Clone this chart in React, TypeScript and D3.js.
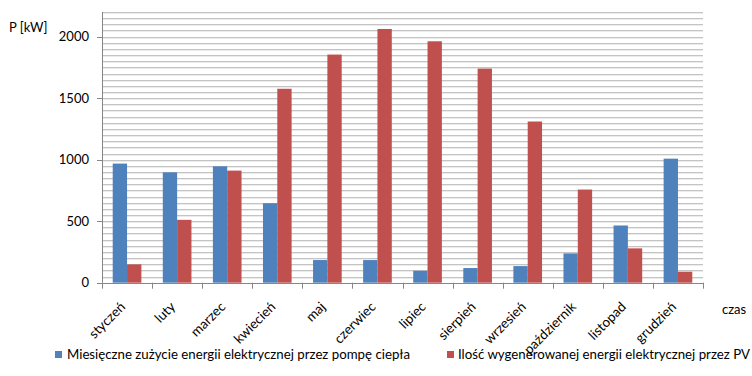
import React from "react";
import * as d3 from "d3";

const months = ["styczeń","luty","marzec","kwiecień","maj","czerwiec","lipiec","sierpień","wrzesień","październik","listopad","grudzień"];
const heatPump = [968, 897, 946, 646, 184, 184, 97, 119, 135, 238, 465, 1008];
const pvOutput = [149, 511, 911, 1576, 1854, 2062, 1962, 1740, 1310, 757, 279, 89];
const yTicks = [0, 500, 1000, 1500, 2000];
const seriesNames = ["Miesięczne zużycie energii elektrycznej przez pompę ciepła", "Ilość wygenerowanej energii elektrycznej przez PV"];
const colors = ["#4f81bd", "#c0504d"];

const W = 752, H = 376;
const left = 102, right = 703, top = 12, bottom = 282.7;
const FONT = "Lato, 'Open Sans', sans-serif";

export default function App() {
  const x = d3.scaleBand<string>().domain(months).range([left, right]).paddingInner(0).paddingOuter(0);
  const y = d3.scaleLinear().domain([0, 2200]).range([bottom, top]);
  const bw = x.bandwidth();
  const barW = bw * 0.286;
  const grid = d3.range(50, 2201, 50);
  return (
    <svg width={W} height={H} style={{ position: "absolute", left: 0, top: 0, background: "#fff" }} fontFamily={FONT}>
      {grid.map((g) => (
        <g key={g}>
          <line x1={left} x2={right} y1={Math.round(y(g)) + 0.5} y2={Math.round(y(g)) + 0.5} stroke="#c4c4c4" />
          <line x1={left} x2={right} y1={Math.round(y(g)) + 1.5} y2={Math.round(y(g)) + 1.5} stroke="#ebebeb" />
        </g>
      ))}
      {months.map((m, i) => {
        const c = (x(m) as number) + bw / 2;
        return (
          <g key={m}>
            <rect x={c - barW} y={y(heatPump[i])} width={barW} height={y(0) - y(heatPump[i])} fill={colors[0]} />
            <rect x={c} y={y(pvOutput[i])} width={barW} height={y(0) - y(pvOutput[i])} fill={colors[1]} />
          </g>
        );
      })}
      {/* y axis */}
      <line x1={left + 0.5} x2={left + 0.5} y1={top} y2={bottom} stroke="#868686" />
      {yTicks.map((t) => (
        <g key={t}>
          <line x1={left - 5} x2={left} y1={Math.round(y(t)) + 0.5} y2={Math.round(y(t)) + 0.5} stroke="#868686" />
          <text x={left - 13} y={y(t)} dy="0.35em" textAnchor="end" fontSize={13} fill="#000">{t}</text>
        </g>
      ))}
      {/* x axis */}
      <line x1={left} x2={right} y1={Math.round(bottom) + 0.5} y2={Math.round(bottom) + 0.5} stroke="#868686" />
      {[...months.map((m) => x(m) as number), right].map((p, i) => (
        <line key={i} x1={Math.round(p) + 0.5} x2={Math.round(p) + 0.5} y1={bottom} y2={bottom + 6} stroke="#868686" />
      ))}
      {months.map((m) => {
        const c = (x(m) as number) + bw / 2;
        return (
          <text key={m} transform={`translate(${c - 1},${bottom + 25}) rotate(-45)`} textAnchor="end" fontSize={13.5} fill="#000">{m}</text>
        );
      })}
      <text x={9} y={32} fontSize={13} fill="#000">P [kW]</text>
      <text x={722} y={314} fontSize={13} fill="#000">czas</text>
      {/* legend */}
      <rect x={55} y={351} width={7} height={7} fill={colors[0]} />
      <text x={67} y={359} fontSize={13} fill="#000" textLength={343} lengthAdjust="spacingAndGlyphs">{seriesNames[0]}</text>
      <rect x={447} y={351} width={7} height={7} fill={colors[1]} />
      <text x={458} y={359} fontSize={13} fill="#000" textLength={292} lengthAdjust="spacingAndGlyphs">{seriesNames[1]}</text>
    </svg>
  );
}
